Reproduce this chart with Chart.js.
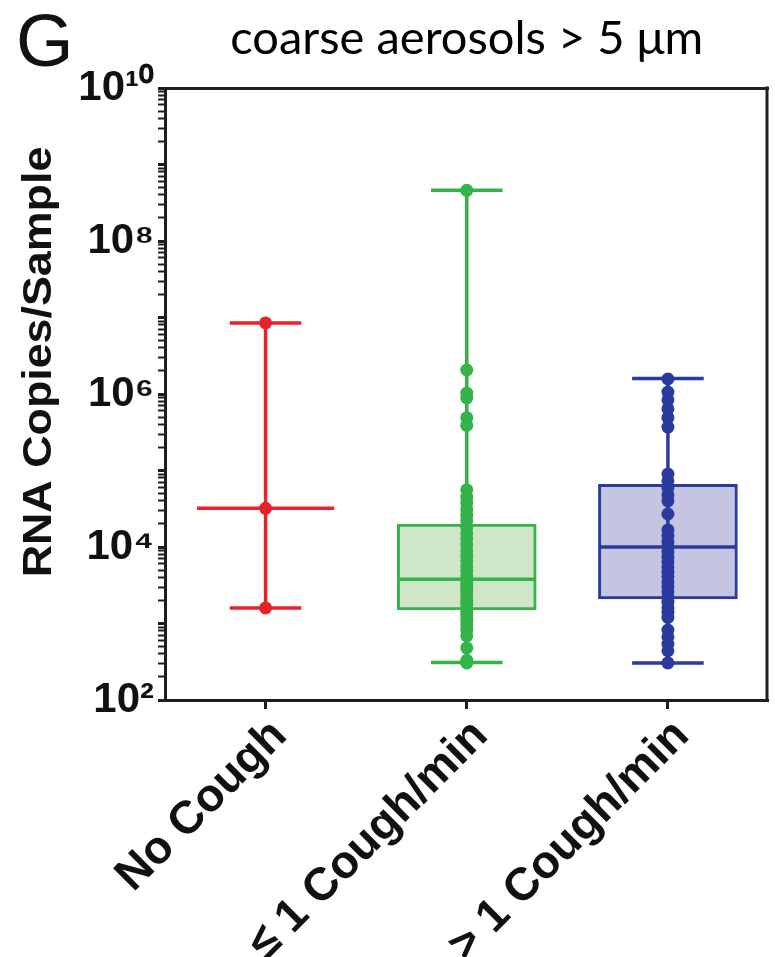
<!DOCTYPE html>
<html><head><meta charset="utf-8">
<script src="https://cdn.jsdelivr.net/npm/chart.js@4.4.1/dist/chart.umd.min.js"></script>
<style>html,body{margin:0;padding:0;background:#fff;overflow:hidden}#wrap{width:775px;height:957px;position:relative}</style>
</head><body><div id="wrap"><canvas id="c" width="775" height="957"></canvas></div>
<script>
// ---- data ----
const categories = ['No Cough', '\u2264 1 Cough/min', '> 1 Cough/min'];
const boxMin    = [1.6e3, 3.1e2, 3.05e2];
const boxQ1     = [null, 1.5e3, 2.1e3];
const boxMedian = [3.2e4, 3.8e3, 1.0e4];
const boxQ3     = [null, 2.0e4, 6.6e4];
const boxMax    = [8.5e6, 4.6e8, 1.6e6];
const pointsNoCough = [8.5e6, 3.2e4, 1.6e3];
const pointsLowCough = [4.6e8, 2.06e6, 1.03e6, 8.9e5, 4.9e5, 3.9e5, 5.6e4, 4.5e4, 3.8e4, 3.1e4, 2.6e4, 2.2e4, 1.8e4, 1.5e4, 1.27e4, 1.06e4, 8.9e3, 7.6e3, 6.6e3, 5.6e3, 4.9e3, 4.2e3, 3.7e3, 3.3e3, 2.9e3, 2.6e3, 2.3e3, 2.0e3, 1.8e3, 1.6e3, 1.4e3, 1.25e3, 1.1e3, 9.6e2, 8.2e2, 6.9e2, 4.8e2, 3.3e2, 3.05e2];
const pointsHighCough = [1.57e6, 1.06e6, 8.4e5, 6.4e5, 4.9e5, 3.7e5, 9.0e4, 7.3e4, 5.9e4, 4.8e4, 4.0e4, 2.7e4, 1.67e4, 1.39e4, 1.16e4, 1.0e4, 8.6e3, 7.4e3, 6.4e3, 5.5e3, 4.7e3, 4.1e3, 3.5e3, 3.0e3, 2.6e3, 2.2e3, 1.9e3, 1.6e3, 1.4e3, 1.2e3, 8.2e2, 6.7e2, 5.4e2, 4.4e2, 3.05e2];
const yTickValues = [1e2, 1e4, 1e6, 1e8, 1e10];
const yTickLabels = ['10\u00B2', '10\u2074', '10\u2076', '10\u2078', '10\u00B9\u2070'];
const chartTitle = 'coarse aerosols > 5 \u03BCm';
const yTitle = 'RNA Copies/Sample';
const panelLetter = 'G';

// ---- styling ----
const strokeColors = ['#e6232b', '#33b34a', '#2b3a9e'];
const fillColors = ['rgba(0,0,0,0)', '#cfe7c8', '#c5c5e1'];
const groupPoints = [pointsNoCough, pointsLowCough, pointsHighCough];
const CAP_HALF = 0.178, MED_HALF = 0.341;
const axisColor = '#1e1e1e';
const tickFont = {family: "'Liberation Sans', Arial, sans-serif", size: 42, weight: 'bold'};

const datasets = [];
// boxes (floating bars)
const boxIdx = categories.map((c, i) => i).filter(i => boxQ1[i] !== null);
datasets.push({
  type: 'bar',
  data: boxIdx.map(i => ({x: i + 1, y: [boxQ1[i], boxQ3[i]]})),
  backgroundColor: boxIdx.map(i => fillColors[i]),
  borderColor: boxIdx.map(i => strokeColors[i]),
  borderWidth: 3,
  borderSkipped: false,
  barThickness: 139,
  order: 3
});
// whiskers, caps and medians
categories.forEach((c, i) => {
  const x = i + 1;
  datasets.push({
    type: 'line',
    data: [
      {x: x - CAP_HALF, y: boxMax[i]}, {x: x + CAP_HALF, y: boxMax[i]}, {x: x, y: null},
      {x: x, y: boxMax[i]}, {x: x, y: boxMin[i]}, {x: x, y: null},
      {x: x - CAP_HALF, y: boxMin[i]}, {x: x + CAP_HALF, y: boxMin[i]}, {x: x, y: null},
      {x: x - MED_HALF, y: boxMedian[i]}, {x: x + MED_HALF, y: boxMedian[i]}
    ],
    borderColor: strokeColors[i],
    borderWidth: 3.5,
    pointRadius: 0,
    spanGaps: false,
    fill: false,
    tension: 0,
    order: 2
  });
});
// individual points
categories.forEach((c, i) => {
  datasets.push({
    type: 'scatter',
    data: groupPoints[i].map(v => ({x: i + 1, y: v})),
    backgroundColor: strokeColors[i],
    borderColor: strokeColors[i],
    borderWidth: 0,
    pointRadius: 6.5,
    order: 1
  });
});

const extras = {
  id: 'extras',
  afterDraw(chart) {
    const {ctx, chartArea: a} = chart;
    ctx.save();
    ctx.strokeStyle = axisColor; ctx.lineWidth = 3;
    ctx.beginPath(); ctx.moveTo(a.right - 1.5, a.top - 1.5); ctx.lineTo(a.right - 1.5, a.bottom); ctx.stroke();
    ctx.fillStyle = '#111';
    ctx.font = "74px 'Liberation Sans', Arial, sans-serif";
    ctx.textAlign = 'left'; ctx.textBaseline = 'alphabetic';
    ctx.fillText(panelLetter, 16, 66);
    ctx.translate(40, 362);
    ctx.rotate(-Math.PI / 2);
    ctx.scale(1.12, 1);
    ctx.font = "bold 40px 'Liberation Sans', Arial, sans-serif";
    ctx.textAlign = 'center'; ctx.textBaseline = 'middle';
    ctx.fillText(yTitle, 0, 0);
    ctx.restore();
  }
};

new Chart(document.getElementById('c'), {
  type: 'bar',
  data: {datasets},
  plugins: [extras],
  options: {
    responsive: false, animation: false, devicePixelRatio: 1,
    layout: {padding: {left: 0, right: 3, top: 0, bottom: 0}},
    plugins: {legend: {display: false}, tooltip: {enabled: false}, title: {display: false}},
    scales: {
      x: {
        type: 'linear', position: 'bottom', min: 0.5, max: 3.5, offset: false,
        afterBuildTicks: s => { s.ticks = categories.map((c, i) => ({value: i + 1})); },
        afterFit: s => { s.height = 257; },
        ticks: {
          callback: v => categories[Math.round(v) - 1] || '',
          minRotation: 45, maxRotation: 45, autoSkip: false,
          font: {family: "'Liberation Sans', Arial, sans-serif", size: 46, weight: 'bold'},
          color: '#111', padding: 0, labelOffset: 14
        },
        grid: {offset: false, drawOnChartArea: false, drawTicks: true, tickLength: 9, tickWidth: 3, tickColor: axisColor},
        border: {display: true, width: 3, color: axisColor}
      },
      xTop: {
        type: 'linear', position: 'top', min: 0.5, max: 3.5, offset: false,
        afterFit: s => { s.height = 88; },
        ticks: {display: false},
        grid: {display: false, offset: false},
        border: {display: true, width: 3, color: axisColor},
        title: {display: true, text: chartTitle, color: '#000',
                font: {family: "Lato, 'Open Sans', sans-serif", size: 47, weight: 'normal'},
                padding: {top: 11, bottom: 0}}
      },
      y: {
        type: 'logarithmic', position: 'left', min: 1e2, max: 1e10,
        afterBuildTicks: s => {
          const t = [];
          for (let e = 2; e < 10; e++) for (let m = 1; m < 10; m++) t.push({value: m * Math.pow(10, e)});
          t.push({value: 1e10});
          s.ticks = t;
        },
        afterFit: s => { s.width = 165; },
        ticks: {
          autoSkip: false, padding: 4, color: '#111', font: tickFont,
          callback: v => {
            const k = yTickValues.findIndex(t => Math.abs(t - v) / t < 1e-6);
            return k >= 0 ? yTickLabels[k] : '';
          }
        },
        grid: {
          drawOnChartArea: false, drawTicks: true, tickLength: 7, tickColor: axisColor,
          tickWidth: ctx => {
            const v = ctx.tick ? ctx.tick.value : 0;
            const l = Math.log10(v);
            return Math.abs(l - Math.round(l)) < 1e-6 ? 3 : 2;
          }
        },
        border: {display: true, width: 3, color: axisColor}
      }
    }
  }
});
</script></body></html>
